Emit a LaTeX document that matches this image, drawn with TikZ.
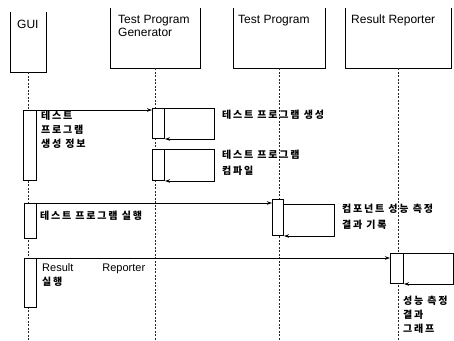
\documentclass[tikz,border=0pt]{standalone}
\usepackage{fontspec}
\setmainfont{Liberation Sans}
\newfontfamily\kr[LetterSpace=18]{Noto Sans CJK KR}
\usetikzlibrary{arrows.meta,positioning,calc}
\tikzset{
  head/.style={minimum width=#1, minimum height=60pt, inner sep=0pt, anchor=north west},
  hlbl/.style={anchor=north west, align=left, inner sep=0pt,
               font=\fontsize{12}{13.5}\selectfont},
  life/.style={draw=black!85, line width=0.7pt, dash pattern=on 2pt off 1.5pt},
  box/.style={draw, line width=1pt},
  act/.style={draw, fill=white, line width=1pt, minimum width=12pt,
              minimum height=#1, inner sep=0pt, anchor=north west},
  msg/.style={-{Stealth[length=5pt,width=3.5pt]}, line width=1pt},
  note/.style={anchor=north west, align=left, inner sep=0pt,
               font=\kr\bfseries\fontsize{10}{14}\selectfont},
}
\begin{document}
\begin{tikzpicture}[x=1pt, y=-1pt]
  \useasboundingbox (0,0) rectangle (454,340);
  % lifeline heads
  \node[head=36pt]  (gui) at (10,12) {};
  \node[head=90pt]  (tpg) at (110,8) {};
  \node[head=92pt]  (tp)  at (233,8) {};
  \node[head=106pt] (rr)  at (345,8) {};
  \foreach \n in {gui,tpg,tp,rr}
    \draw[box] (\n.north west) -- (\n.south west) -- (\n.south east) -- (\n.north east);
  \node[hlbl] (guit) at ($(gui.north west)+(7,8)$) {GUI};
  \node[hlbl] (tpgt) at ($(tpg.north west)+(8,7)$) {Test Program\\Generator};
  \node[hlbl] (tpt)  at ($(tp.north west)+(5,7)$)  {Test Program};
  \node[hlbl] (rrt)  at ($(rr.north west)+(6,7)$)  {Result Reporter};
  \foreach \n in {gui,tpg,tp,rr}
    \draw[life] (\n.south) -- (\n.south |- 0,340);

  % activations
  \node[act=70pt, minimum width=13pt] (g1) at (23,110) {};
  \node[act=35pt] (g2) at (24,203) {};
  \node[act=49pt] (g3) at (24,258) {};
  \node[act=30pt] (t1) at (152,108) {};
  \node[act=31pt] (t2) at (152,149) {};
  \node[act=36pt, minimum width=11pt] (p1) at (272,199) {};
  \node[act=30pt, minimum width=13pt] (r1) at (390,253) {};

  % messages
  \draw[msg] (g1.north east) -- (g1.north east -| t1.west);
  \draw[msg] (g2.north east) -- (g2.north east -| p1.west);
  \draw[msg] (g3.north east) -- (g3.north east -| r1.west);
  \draw[msg] (t1.north east) -- ++(49,0) |- (t1.south east);
  \draw[msg] (t2.north east) -- ++(49,0) |- (t2.south east);
  \draw[msg] ($(p1.north east)+(0,5)$) -- ++(50,0) |- (p1.south east);
  \draw[msg] (r1.north east) -- ++(49,0) |- (r1.south east);

  % labels
  \node[note] (n1) at (41,111) {테스트\\프로그램\\생성 정보};
  \node[note] (n2) at (40,211) {테스트 프로그램 실행};
  \node[note] (n3) at (42,263) {\makebox[103pt][s]{\normalfont\fontsize{11}{14}\selectfont Result Reporter}\\실행};
  \node[note] (m1) at (222,110) {테스트 프로그램 생성};
  \node[note] (m2) at (222,150) {테스트 프로그램\\[2pt]컴파일};
  \node[note] (m3) at (342,204) {컴포넌트 성능 측정\\[2pt]결과 기록};
  \node[note] (m4) at (403,296) {성능 측정\\결과\\그래프};
\end{tikzpicture}
\end{document}
